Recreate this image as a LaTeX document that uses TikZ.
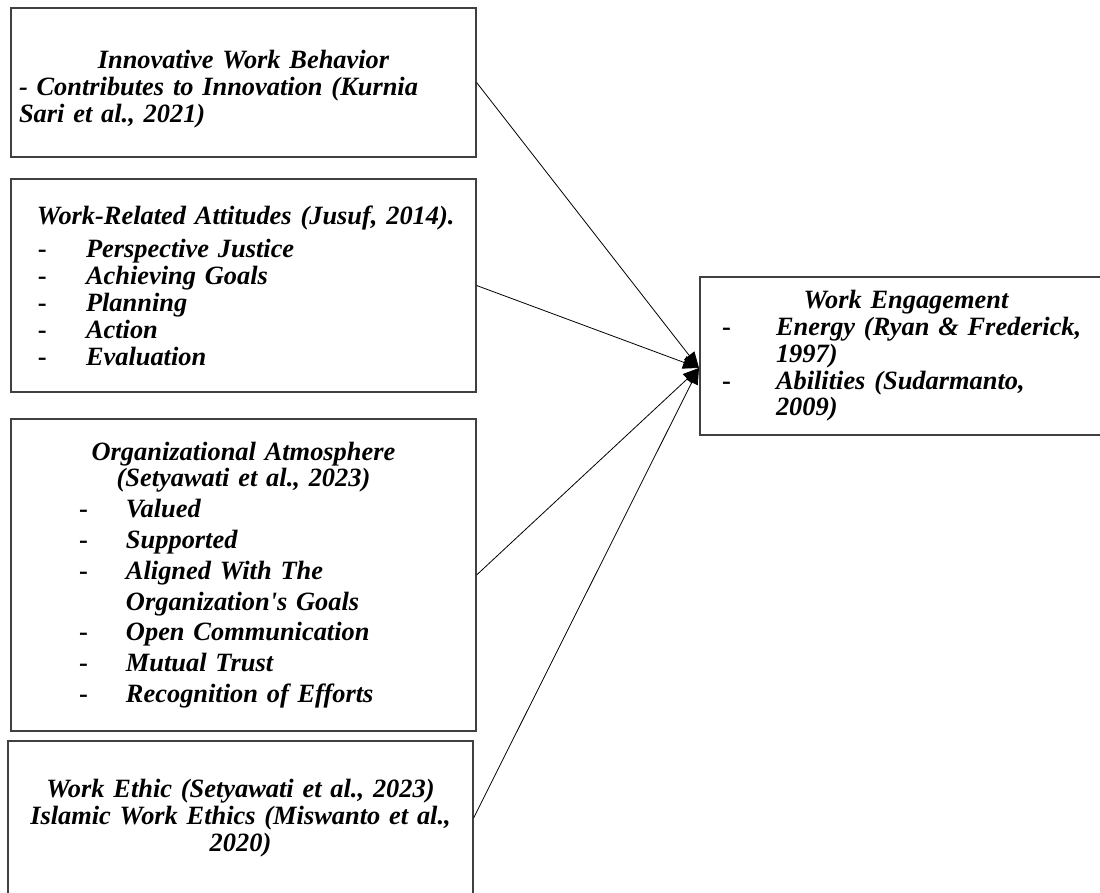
\documentclass[tikz,border=0pt]{standalone}
\usepackage{fontspec}
\newfontfamily\figfont{Liberation Serif}
\usetikzlibrary{arrows.meta}

\newcommand{\ctr}[1]{\makebox[\linewidth][c]{#1}}
\newcommand{\itm}[3][24pt]{\hspace*{#2}\makebox[#1][l]{\upshape -}#3}

\begin{document}
\begin{tikzpicture}[x=0.5pt,y=-0.5pt,
    box/.style={draw=black!75,line width=0.6pt,rectangle,inner xsep=4pt,inner ysep=0pt,
      align=left,font=\figfont\fontsize{13.2}{13.4}\selectfont\bfseries\itshape},
    >={Triangle[length=8pt,width=6.5pt]}]
   \useasboundingbox (0,0) rectangle (1100,893);

   \node[box,minimum width=232.5pt,minimum height=74.5pt,text width=224.5pt,text height=16pt] (innov) at (243.5,82.5)
     {\ctr{Innovative Work Behavior}\\
      - Contributes to Innovation (Kurnia\\
      Sari et al., 2021)};
   \node[box,minimum width=232.5pt,minimum height=106.5pt,text width=224.5pt] (attit) at (243.5,285.5)
     {\hspace*{9pt}Work-Related Attitudes (Jusuf, 2014).\\[3.5pt]
      \itm{9.5pt}{Perspective Justice}\\
      \itm{9.5pt}{Achieving Goals}\\
      \itm{9.5pt}{Planning}\\
      \itm{9.5pt}{Action}\\
      \itm{9.5pt}{Evaluation}};
   \node[box,minimum width=232.5pt,minimum height=156pt,text width=224.5pt] (atmos) at (243.5,575)
     {\ctr{Organizational Atmosphere}\\
      \ctr{(Setyawati et al., 2023)}\\[2pt]
      \itm[23.5pt]{30pt}{Valued}\\[2pt]
      \itm[23.5pt]{30pt}{Supported}\\[2pt]
      \itm[23.5pt]{30pt}{Aligned With The}\\[2pt]
      \hspace*{53.5pt}Organization's Goals\\[2pt]
      \itm[23.5pt]{30pt}{Open Communication}\\[2pt]
      \itm[23.5pt]{30pt}{Mutual Trust}\\[2pt]
      \itm[23.5pt]{30pt}{Recognition of Efforts}};
   \node[box,minimum width=232.5pt,minimum height=77pt,text width=224.5pt] (ethic) at (240.5,818)
     {\ctr{Work Ethic (Setyawati et al., 2023)}\\
      \ctr{Islamic Work Ethics (Miswanto et al.,}\\
      \ctr{2020)}};
   \node[box,minimum width=206pt,minimum height=79pt,text width=198pt] (engage) at (906,356)
     {\ctr{Work Engagement}\\
      \itm[27pt]{7pt}{Energy (Ryan \& Frederick,}\\
      \hspace*{34pt}1997)\\
      \itm[27pt]{7pt}{Abilities (Sudarmanto,}\\
      \hspace*{34pt}2009)};

   \coordinate (hub) at (699,368);

   \path[->,line width=0.4pt]
   (innov.east) edge (hub)
   (attit.east) edge (hub)
   (atmos.east) edge (hub)
   (ethic.east) edge (hub);
\end{tikzpicture}
\end{document}
